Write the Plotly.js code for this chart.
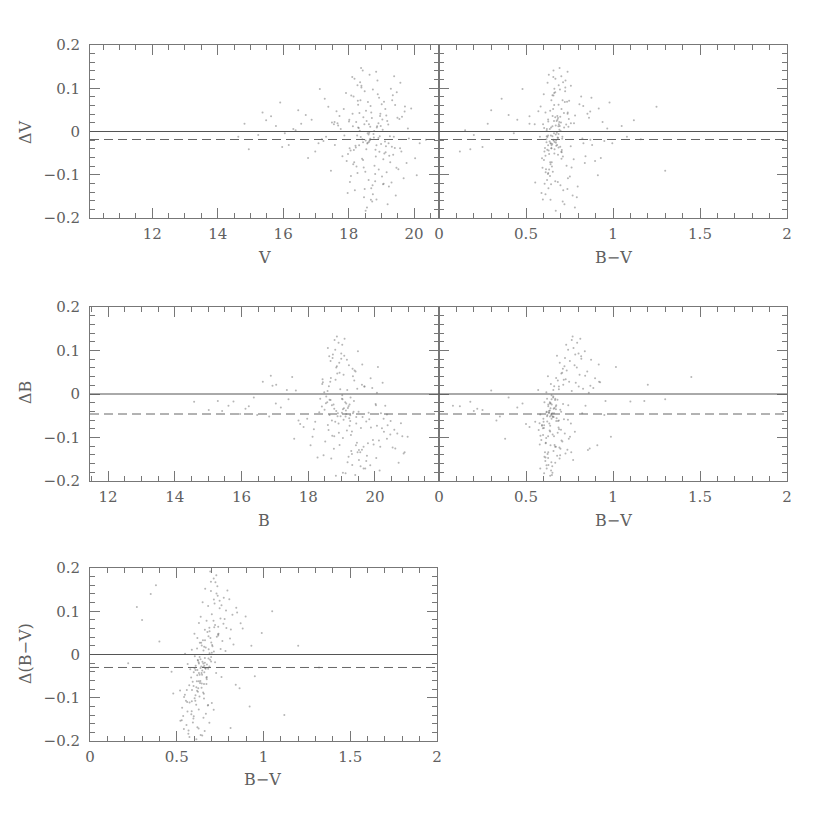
<!DOCTYPE html>
<html>
<head>
<meta charset="utf-8">
<script src="https://cdn.plot.ly/plotly-3.0.1.min.js"></script>
<style>
  html, body { margin: 0; padding: 0; background: #fff; }
  #plot { width: 830px; height: 830px; }
</style>
</head>
<body>
<div id="plot"></div>
<script>
// Star sample 1: V magnitude, colour and V residual (panels 1 and 2)
const magV = [
  18.13, 18.42, 18.71, 18.94, 19.18, 17.87, 18.33, 18.57, 19.04, 19.41,
  18.21, 18.48, 18.83, 19.12, 17.76, 18.02, 18.37, 18.66, 19.27, 19.63,
  17.98, 18.29, 18.62, 18.91, 19.52, 17.68, 18.16, 18.53, 18.79, 19.84,
  18.08, 18.44, 18.74, 19.02, 19.33, 17.58, 18.61, 18.88, 19.23, 19.72,
  18.27, 18.51, 18.84, 19.07, 19.44, 17.92, 18.19, 18.64, 18.97, 20.03,
  18.04, 18.39, 18.68, 18.93, 19.58, 17.49, 18.11, 18.47, 19.16, 19.91,
  18.24, 18.59, 18.81, 19.14, 19.47, 17.81, 18.31, 18.73, 19.29, 19.68,
  16.87, 17.23, 16.46, 15.78, 15.24, 14.82, 16.17, 17.38, 16.98, 16.69,
  18.52, 18.86, 18.22, 19.38, 18.01, 18.58, 18.99, 18.34, 18.77, 19.21,
  18.41, 18.69, 19.09, 18.14, 19.49, 18.63, 18.92, 18.28, 19.81, 17.63,
  18.49, 18.82, 19.01, 18.18, 19.31, 18.72, 17.94, 19.57, 18.38, 20.17,
  18.56, 18.43, 18.89, 19.19, 18.07, 18.67, 19.36, 17.97, 18.46, 19.03,
  17.27, 15.97, 15.48, 16.76, 17.12, 14.63, 15.91, 16.38, 17.46, 20.36,
  18.61, 18.32, 18.78, 19.11, 18.54, 18.87, 19.26, 18.23, 18.66, 18.96,
  17.72, 18.06, 18.36, 18.65, 18.98, 19.24, 19.55, 19.77, 17.55, 20.08,
  18.26, 18.55, 18.85, 19.13, 19.42, 18.12, 18.44, 18.76, 19.06, 19.35,
  17.85, 18.17, 18.49, 18.81, 19.15, 19.46, 19.71, 18.03, 18.35, 18.69,
  18.58, 18.91, 19.22, 18.29, 18.64, 18.95, 19.32, 17.66, 19.61, 18.45,
  16.55, 17.08, 15.63, 17.31, 16.31, 14.95, 17.57, 16.05, 15.37, 17.18,
  18.74, 18.39, 19.05, 18.15, 18.85, 19.39, 18.52, 19.08, 18.27, 18.62
];
const colourV = [
  0.652, 0.618, 0.684, 0.703, 0.661, 0.627, 0.718, 0.643, 0.692, 0.609,
  0.674, 0.598, 0.712, 0.656, 0.637, 0.681, 0.623, 0.744, 0.648, 0.697,
  0.633, 0.687, 0.664, 0.776, 0.615, 0.671, 0.706, 0.639, 0.733, 0.824,
  0.658, 0.603, 0.695, 0.752, 0.646, 0.679, 0.621, 0.727, 0.797, 0.584,
  0.688, 0.654, 0.739, 0.607, 0.768, 0.662, 0.714, 0.631, 0.853, 0.592,
  0.683, 0.726, 0.641, 0.876, 0.624, 0.701, 0.657, 0.792, 0.613, 0.918,
  0.649, 0.723, 0.626, 0.757, 0.668, 0.842, 0.604, 0.698, 0.663, 0.741,
  0.45, 0.95, 0.30, 1.05, 0.20, 0.52, 0.88, 1.25, 0.12, 0.40,
  0.659, 0.644, 0.687, 0.709, 0.628, 0.672, 0.651, 0.619, 0.682, 0.731,
  0.704, 0.612, 0.663, 0.641, 0.862, 0.677, 0.633, 0.748, 0.967, 0.571,
  0.738, 0.622, 0.807, 0.669, 0.553, 0.711, 0.897, 0.646, 0.693, 0.996,
  0.781, 0.658, 0.602, 0.721, 0.638, 0.829, 0.684, 0.589, 0.762, 0.627,
  0.36, 0.25, 1.12, 0.93, 0.48, 0.58, 0.98, 0.15, 1.30, 0.87,
  0.671, 0.647, 0.699, 0.636, 0.664, 0.686, 0.619, 0.691, 0.708, 0.653,
  0.68, 0.63, 0.71, 0.657, 0.694, 0.612, 0.746, 0.838, 0.55, 0.913,
  0.643, 0.676, 0.627, 0.705, 0.662, 0.739, 0.618, 0.687, 0.774, 0.652,
  0.704, 0.639, 0.725, 0.668, 0.782, 0.595, 0.869, 0.646, 0.713, 0.629,
  0.661, 0.684, 0.641, 0.719, 0.673, 0.652, 0.697, 0.758, 0.606, 0.668,
  0.28, 0.83, 0.52, 1.08, 0.62, 0.18, 0.94, 0.43, 0.74, 1.16,
  0.612, 0.758, 0.644, 0.817, 0.597, 0.703, 0.671, 0.736, 0.628, 0.689
];
const deltaV = [
  0.012, -0.018, 0.031, -0.047, 0.024, -0.009, 0.043, -0.028, 0.004, -0.038,
  -0.033, 0.017, -0.058, 0.052, 0.006, 0.027, -0.013, 0.011, -0.071, 0.034,
  -0.052, 0.062, -0.024, 0.019, -0.087, 0.014, -0.043, 0.048, -0.079, -0.016,
  0.083, -0.066, 0.097, -0.104, 0.072, -0.031, -0.112, 0.118, -0.127, 0.058,
  0.107, -0.093, 0.138, -0.121, -0.148, 0.089, -0.136, 0.131, 0.041, -0.062,
  -0.117, 0.102, -0.158, 0.078, 0.113, 0.021, 0.126, -0.152, -0.094, 0.053,
  -0.081, 0.068, -0.098, -0.034, 0.091, -0.057, 0.008, -0.124, 0.099, -0.108,
  0.027, -0.022, 0.049, 0.013, -0.008, 0.018, -0.031, 0.057, -0.046, 0.038,
  -0.021, 0.009, -0.037, -0.012, 0.023, -0.026, -0.029, 0.002, -0.014, 0.016,
  -0.063, 0.044, -0.051, -0.076, 0.032, -0.003, -0.088, 0.071, 0.007, 0.047,
  -0.133, -0.042, 0.063, 0.122, -0.118, -0.162, -0.068, -0.039, 0.147, -0.027,
  -0.176, 0.141, 0.086, -0.168, -0.103, 0.059, -0.054, -0.142, -0.083, 0.028,
  0.076, -0.036, 0.026, -0.061, 0.098, -0.012, 0.067, 0.003, -0.091, -0.019,
  -0.007, -0.032, 0.001, -0.023, -0.041, 0.012, -0.011, 0.022, -0.017, 0.036,
  0.036, -0.044, 0.072, -0.019, 0.013, -0.056, 0.029, -0.073, 0.017, -0.101,
  -0.009, 0.024, -0.032, -0.048, 0.061, 0.041, -0.025, -0.006, -0.064, 0.084,
  0.052, -0.071, 0.093, -0.115, 0.037, -0.084, 0.046, -0.039, 0.114, -0.131,
  -0.004, -0.015, -0.027, 0.009, -0.021, -0.011, -0.035, 0.019, -0.046, 0.033,
  0.018, -0.027, 0.035, -0.012, 0.006, -0.041, 0.022, -0.004, 0.044, -0.018,
  -0.145, 0.106, -0.122, 0.081, -0.157, 0.128, -0.183, 0.069, -0.096, 0.017
];

// Star sample 2: B magnitude, colour and B residual (panels 3 and 4)
const magB = [
  18.62, 18.87, 19.21, 18.73, 19.03, 19.38, 18.48, 18.81, 19.12, 19.33,
  18.68, 19.02, 18.57, 18.93, 19.17, 18.42, 19.51, 18.79, 19.08, 19.74,
  18.91, 19.28, 18.66, 19.63, 19.04, 19.88, 18.84, 19.43, 20.12, 19.19,
  19.48, 19.83, 20.04, 20.27, 19.57, 20.53, 19.31, 20.18, 20.71, 19.94,
  18.53, 18.78, 19.01, 18.64, 19.24, 18.88, 18.41, 19.13, 18.71, 19.27,
  19.42, 19.68, 20.02, 19.16, 20.38, 19.61, 20.82, 19.87, 20.14, 19.52,
  18.33, 18.61, 18.94, 19.32, 18.46, 19.04, 18.72, 19.44, 18.83, 19.09,
  17.18, 17.63, 16.47, 15.76, 15.42, 17.86, 16.93, 17.97, 17.41, 16.22,
  20.58, 20.31, 19.79, 20.86, 19.62, 20.23, 20.47, 19.71, 20.98, 20.06,
  18.82, 19.14, 18.59, 19.47, 18.92, 19.22, 19.81, 18.51, 19.29, 18.99,
  18.69, 19.06, 19.37, 18.86, 19.58, 18.63, 19.18, 19.92, 18.77, 19.34,
  18.21, 18.44, 19.66, 20.36, 18.13, 20.67, 19.49, 18.28, 20.09, 19.41,
  15.02, 16.37, 17.04, 17.76, 14.58, 16.83, 18.07, 17.52, 15.61, 20.89,
  18.97, 18.89, 19.07, 19.23, 18.76, 19.26, 19.02, 18.67, 19.36, 19.11,
  18.54, 18.86, 19.16, 19.46, 19.76, 20.06, 20.36, 18.74, 19.06, 19.56,
  18.96, 19.26, 18.59, 19.86, 20.16, 18.49, 19.39, 20.46, 18.81, 19.66,
  18.67, 19.01, 19.31, 19.61, 18.91, 19.21, 18.43, 20.26, 19.96, 18.71,
  17.03, 16.64, 17.71, 15.96, 17.36, 16.12, 18.17, 15.29, 16.88, 17.58,
  19.14, 18.84, 19.44, 19.04, 18.64, 19.34, 20.61, 19.74, 20.21, 18.58,
  18.94, 19.24, 18.78, 19.52, 20.03, 19.69, 18.36, 20.78, 19.12, 18.99
];
const colourB = [
  0.662, 0.703, 0.628, 0.724, 0.647, 0.683, 0.617, 0.742, 0.638, 0.712,
  0.673, 0.731, 0.606, 0.694, 0.657, 0.643, 0.702, 0.763, 0.678, 0.622,
  0.634, 0.598, 0.748, 0.654, 0.616, 0.687, 0.792, 0.641, 0.704, 0.663,
  0.609, 0.718, 0.627, 0.781, 0.651, 0.692, 0.624, 0.823, 0.668, 0.588,
  0.642, 0.659, 0.633, 0.681, 0.648, 0.621, 0.671, 0.637, 0.689, 0.656,
  0.852, 0.803, 0.713, 0.874, 0.604, 0.738, 0.661, 0.897, 0.644, 0.771,
  0.618, 0.573, 0.664, 0.629, 0.696, 0.652, 0.583, 0.758, 0.639, 0.812,
  0.45, 0.30, 0.95, 1.10, 0.20, 0.52, 0.87, 0.60, 1.30, 0.12,
  0.701, 0.842, 0.613, 0.727, 0.918, 0.786, 0.674, 0.619, 0.753, 0.861,
  0.717, 0.638, 0.592, 0.828, 0.682, 0.779, 0.631, 0.709, 0.658, 0.802,
  0.693, 0.741, 0.957, 0.768, 0.603, 0.817, 0.646, 0.887, 0.698, 0.626,
  0.553, 0.926, 0.672, 0.582, 0.988, 0.723, 0.838, 0.612, 1.017, 0.649,
  0.25, 0.40, 1.20, 0.50, 0.18, 0.35, 0.91, 1.45, 0.08, 0.76,
  0.653, 0.661, 0.641, 0.676, 0.628, 0.684, 0.647, 0.667, 0.619, 0.637,
  0.657, 0.721, 0.636, 0.614, 0.679, 0.592, 0.746, 0.783, 0.808, 0.628,
  0.689, 0.644, 0.773, 0.618, 0.667, 0.697, 0.734, 0.653, 0.601, 0.582,
  0.752, 0.668, 0.639, 0.714, 0.794, 0.606, 0.728, 0.647, 0.579, 0.674,
  0.48, 0.92, 0.33, 1.02, 0.57, 0.22, 0.69, 1.18, 0.84, 0.38,
  0.646, 0.632, 0.659, 0.672, 0.623, 0.651, 0.866, 0.611, 0.597, 0.763,
  0.708, 0.639, 0.627, 0.856, 0.743, 0.689, 0.621, 0.578, 0.604, 0.818
];
const deltaB = [
  0.018, 0.047, -0.028, 0.083, -0.012, 0.031, 0.004, 0.102, -0.052, 0.058,
  0.037, 0.113, -0.019, 0.072, 0.009, 0.023, -0.041, 0.124, 0.088, -0.063,
  -0.068, -0.094, 0.028, -0.053, -0.101, -0.077, 0.061, -0.118, -0.107, -0.032,
  -0.134, -0.058, -0.147, -0.087, -0.166, -0.123, -0.138, -0.044, -0.158, -0.106,
  -0.021, -0.034, -0.043, -0.013, -0.024, -0.051, -0.029, -0.038, -0.061, -0.008,
  0.052, 0.017, -0.023, 0.079, -0.072, -0.128, -0.097, 0.036, -0.176, -0.152,
  -0.042, -0.083, -0.117, -0.163, -0.141, -0.181, -0.096, -0.068, -0.188, 0.127,
  -0.031, 0.008, -0.048, -0.017, -0.039, -0.076, 0.019, -0.057, -0.012, -0.028,
  -0.082, -0.027, -0.113, -0.137, 0.068, 0.026, -0.062, -0.171, -0.098, 0.003,
  0.033, -0.022, -0.071, 0.012, -0.089, 0.066, -0.043, -0.109, -0.131, 0.093,
  -0.148, -0.059, -0.016, 0.132, -0.078, 0.087, -0.157, 0.014, -0.126, 0.041,
  -0.064, 0.027, -0.121, -0.047, -0.098, -0.091, 0.098, -0.146, 0.062, -0.186,
  -0.037, -0.008, 0.021, -0.069, -0.018, -0.052, -0.118, 0.039, -0.027, -0.134,
  -0.051, -0.044, -0.033, -0.056, -0.024, -0.062, -0.003, -0.014, -0.041, -0.019,
  -0.006, 0.064, -0.084, -0.112, -0.142, -0.073, -0.103, 0.091, 0.044, -0.134,
  0.011, -0.049, 0.106, -0.164, -0.121, -0.036, 0.054, -0.093, -0.064, -0.171,
  0.076, -0.011, -0.086, 0.021, 0.118, -0.144, 0.034, -0.057, -0.116, -0.026,
  -0.022, 0.028, -0.061, -0.046, 0.009, -0.034, -0.081, -0.016, 0.042, -0.103,
  -0.046, -0.039, -0.053, -0.035, -0.048, -0.044, -0.125, -0.154, -0.079, 0.007,
  0.049, -0.073, -0.097, -0.129, -0.026, 0.017, -0.011, -0.067, -0.182, 0.081
];

// Star sample 3: colour and colour residual (panel 5)
const colourBV = [
  0.718, 0.752, 0.697, 0.784, 0.741, 0.803, 0.713, 0.763, 0.821, 0.729,
  0.683, 0.721, 0.658, 0.747, 0.702, 0.786, 0.641, 0.734, 0.848, 0.692,
  0.654, 0.677, 0.628, 0.712, 0.663, 0.739, 0.617, 0.688, 0.769, 0.604,
  0.637, 0.662, 0.618, 0.684, 0.647, 0.626, 0.673, 0.609, 0.698, 0.643,
  0.616, 0.643, 0.598, 0.657, 0.631, 0.583, 0.652, 0.607, 0.679, 0.588,
  0.603, 0.627, 0.572, 0.654, 0.612, 0.547, 0.668, 0.593, 0.702, 0.562,
  0.584, 0.619, 0.553, 0.638, 0.596, 0.531, 0.661, 0.573, 0.688, 0.542,
  0.568, 0.613, 0.537, 0.626, 0.592, 0.521, 0.647, 0.558, 0.713, 0.603,
  0.662, 0.704, 0.638, 0.727, 0.681, 0.619, 0.753, 0.671, 0.714, 0.633,
  0.689, 0.672, 0.721, 0.649, 0.738, 0.628, 0.781, 0.664, 0.807, 0.697,
  0.40, 0.30, 0.95, 1.05, 0.22, 0.48, 0.88, 0.92, 1.20, 0.35,
  0.771, 0.843, 0.728, 0.868, 0.792, 0.693, 0.827, 0.758, 0.897, 0.862,
  0.563, 0.602, 0.519, 0.621, 0.578, 0.657, 0.548, 0.634, 0.587, 0.681,
  0.641, 0.653, 0.628, 0.664, 0.637, 0.671, 0.619, 0.648, 0.632, 0.659,
  0.702, 0.736, 0.688, 0.758, 0.723, 0.776, 0.694, 0.747, 0.812, 0.667,
  0.632, 0.651, 0.608, 0.673, 0.644, 0.622, 0.689, 0.597, 0.714, 0.656,
  0.574, 0.598, 0.556, 0.622, 0.586, 0.541, 0.636, 0.567, 0.608, 0.529,
  0.674, 0.699, 0.659, 0.716, 0.683, 0.644, 0.731, 0.667, 0.624, 0.706,
  0.47, 0.27, 0.99, 0.84, 1.12, 0.38, 0.93, 0.56, 1.32, 0.81,
  0.646, 0.662, 0.627, 0.681, 0.613, 0.698, 0.652, 0.617, 0.739, 0.587
];
const deltaBV = [
  0.118, 0.083, 0.147, 0.102, 0.048, 0.128, 0.176, 0.031, 0.092, 0.141,
  0.042, 0.068, 0.018, 0.107, 0.004, 0.061, 0.027, 0.158, 0.097, -0.012,
  0.009, 0.052, -0.021, 0.078, 0.033, 0.044, 0.014, -0.028, 0.071, -0.004,
  -0.031, -0.008, -0.048, 0.012, -0.037, -0.018, -0.057, -0.026, -0.016, -0.043,
  -0.062, -0.077, -0.041, -0.068, -0.097, -0.053, -0.088, -0.107, -0.118, -0.082,
  -0.101, -0.127, -0.071, -0.146, -0.116, -0.093, -0.137, -0.157, -0.112, -0.132,
  -0.138, -0.168, -0.107, -0.186, -0.148, -0.123, -0.177, -0.191, -0.158, -0.098,
  -0.176, -0.196, -0.142, -0.171, -0.063, -0.153, -0.187, -0.082, -0.128, -0.032,
  0.057, 0.022, 0.087, -0.043, 0.112, 0.038, 0.013, -0.068, 0.127, 0.027,
  0.003, 0.078, -0.018, 0.121, 0.047, 0.073, 0.008, 0.152, 0.037, 0.168,
  0.03, 0.08, -0.05, 0.10, -0.02, -0.09, 0.06, -0.12, 0.02, 0.14,
  0.131, 0.108, 0.183, 0.072, 0.148, 0.192, 0.023, -0.052, 0.088, -0.078,
  -0.022, 0.048, -0.083, -0.013, -0.034, -0.102, 0.002, -0.066, 0.011, -0.117,
  -0.028, -0.021, -0.043, -0.032, -0.011, -0.054, -0.036, -0.017, -0.047, -0.026,
  0.093, 0.136, 0.062, 0.114, 0.167, 0.082, 0.038, 0.124, 0.058, 0.016,
  -0.006, 0.033, -0.036, -0.052, 0.021, -0.014, 0.054, -0.073, 0.007, -0.091,
  -0.111, -0.143, -0.163, -0.086, -0.131, -0.172, -0.061, -0.183, -0.094, -0.152,
  -0.023, 0.028, -0.041, 0.063, -0.009, -0.067, 0.041, -0.033, -0.078, 0.019,
  -0.04, 0.11, 0.05, -0.07, -0.14, 0.16, 0.02, -0.11, -0.03, -0.17,
  -0.047, -0.019, -0.062, -0.033, -0.076, -0.006, -0.029, -0.084, 0.064, -0.108
];

// Mean offsets (dashed lines), one per panel
const meanOffsets = [-0.0185, -0.0185, -0.046, -0.046, -0.03];
const panelXTitles = ["V", "B−V", "B", "B−V", "B−V"];
const panelYTitles = ["ΔV", "ΔB", "Δ(B−V)"];

const fontFamily = "'DejaVu Serif', 'Liberation Serif', serif";
const inkColor = "#606060";

function dots(x, y, axisSuffix) {
    return {
        x: x,
        y: y,
        xaxis: "x" + axisSuffix,
        yaxis: "y" + axisSuffix,
        type: "scatter",
        mode: "markers",
        marker: { size: 2, color: "rgba(110,110,110,0.5)" },
        hoverinfo: "skip"
    };
}

const traces = [
    dots(magV, deltaV, ""),
    dots(colourV, deltaV, "2"),
    dots(magB, deltaB, "3"),
    dots(colourB, deltaB, "4"),
    dots(colourBV, deltaBV, "5")
];

// Shared axis styling
function xAxis(domain, range, dtick, minorDtick, anchor) {
    return {
        domain: domain, range: range, anchor: anchor,
        dtick: dtick, tick0: 0,
        ticks: "inside", ticklen: 10, tickcolor: "#777", tickwidth: 1,
        minor: { dtick: minorDtick, ticks: "inside", ticklen: 5, tickcolor: "#777", tickwidth: 1 },
        showline: true, mirror: "allticks", linecolor: "#777", linewidth: 1,
        showgrid: false, zeroline: false,
        ticklabelstandoff: 2,
        tickfont: { family: fontFamily, size: 15, color: inkColor }
    };
}

function yAxis(domain, anchor, showLabels) {
    return {
        domain: domain, range: [-0.2, 0.2], anchor: anchor,
        dtick: 0.1, tick0: 0,
        ticks: "inside", ticklen: 10, tickcolor: "#777", tickwidth: 1,
        minor: { dtick: 0.02, ticks: "inside", ticklen: 5, tickcolor: "#777", tickwidth: 1 },
        showline: true, mirror: "allticks", linecolor: "#777", linewidth: 1,
        showgrid: false, zeroline: false,
        showticklabels: showLabels,
        ticklabelstandoff: 6,
        tickfont: { family: fontFamily, size: 15, color: inkColor }
    };
}

const W = 830, H = 830;
const colLeft = [90 / W, 439 / W];
const colRight = [439 / W, 787 / W];
const row1 = [1 - 218 / H, 1 - 45 / H];
const row2 = [1 - 481 / H, 1 - 307 / H];
const row3 = [1 - 741 / H, 1 - 568 / H];

// Zero line and dashed mean-offset line for each panel
const suffixes = ["", "2", "3", "4", "5"];
const shapes = [];
suffixes.forEach((s, i) => {
    shapes.push({
        type: "line", xref: "x" + s + " domain", yref: "y" + s,
        x0: 0, x1: 1, y0: 0, y1: 0,
        line: { color: "#555", width: 1 }
    });
    shapes.push({
        type: "line", xref: "x" + s + " domain", yref: "y" + s,
        x0: 0, x1: 1, y0: meanOffsets[i], y1: meanOffsets[i],
        line: { color: "#666", width: 1, dash: "9px,5px" }
    });
});

// Axis titles placed in paper pixels
function label(text, px, py, angle) {
    return {
        text: text, xref: "paper", yref: "paper",
        x: px / W, y: 1 - py / H, showarrow: false,
        textangle: angle || 0,
        xanchor: "center", yanchor: "middle",
        font: { family: fontFamily, size: 16, color: inkColor }
    };
}

const annotations = [
    label(panelXTitles[0], 264, 257),
    label(panelXTitles[1], 613, 257),
    label(panelXTitles[2], 264, 520),
    label(panelXTitles[3], 613, 520),
    label(panelXTitles[4], 262, 779),
    label(panelYTitles[0], 25, 132, -90),
    label(panelYTitles[1], 25, 393, -90),
    label(panelYTitles[2], 25, 654, -90)
];

const layout = {
    width: W, height: H,
    margin: { l: 0, r: 0, t: 0, b: 0 },
    paper_bgcolor: "#fff", plot_bgcolor: "#fff",
    showlegend: false,
    xaxis: xAxis(colLeft, [10.1, 20.76], 2, 0.5, "y"),
    yaxis: yAxis(row1, "x", true),
    xaxis2: xAxis(colRight, [0, 2], 0.5, 0.1, "y2"),
    yaxis2: yAxis(row1, "x2", false),
    xaxis3: xAxis(colLeft, [11.46, 21.92], 2, 0.5, "y3"),
    yaxis3: yAxis(row2, "x3", true),
    xaxis4: xAxis(colRight, [0, 2], 0.5, 0.1, "y4"),
    yaxis4: yAxis(row2, "x4", false),
    xaxis5: xAxis([90 / W, 437 / W], [0, 2], 0.5, 0.1, "y5"),
    yaxis5: yAxis(row3, "x5", true),
    shapes: shapes,
    annotations: annotations
};

Plotly.newPlot("plot", traces, layout, { staticPlot: true });
</script>
</body>
</html>
